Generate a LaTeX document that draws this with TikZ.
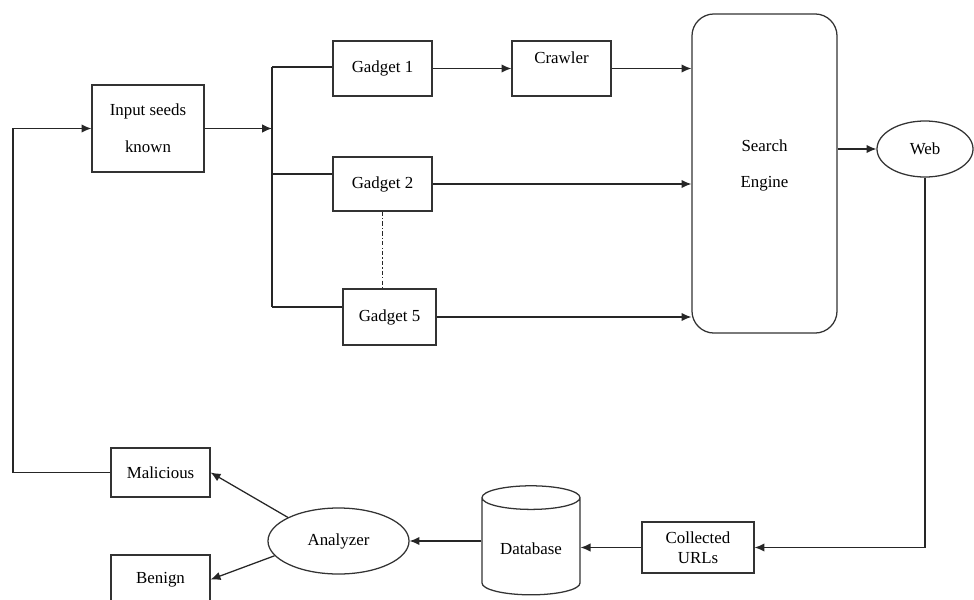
\documentclass[tikz,border=0pt]{standalone}
\usepackage{fontspec}
\setmainfont{Liberation Serif}
\usetikzlibrary{arrows.meta,shapes.geometric}

\tikzset{
  box/.style={draw=black!80, line width=0.9pt, minimum width=2.475cm,
    minimum height=1.375cm, align=center, inner sep=2pt,
    font=\fontsize{12}{14}\selectfont},
  oval/.style={box, ellipse},
  flow/.style={line width=0.9pt, draw=black!85, -{Latex[length=7pt,width=6pt]}},
  wire/.style={line width=0.9pt, draw=black!85},
}

\begin{document}
\begin{tikzpicture}[x=0.025cm, y=-0.025cm]
\useasboundingbox (0,0) rectangle (974,599);

\draw (148,128.5) node[box, minimum width=2.8cm, minimum height=2.175cm] (seeds) {Input seeds\\[12pt]known};
  \draw (382.5,68.5) node[box] (gadget1) {Gadget 1};
  \draw (561.5,68.5) node[box, text depth=16pt] (crawler) {Crawler};
  \draw (382.5,184) node[box, minimum height=1.35cm] (gadget2) {Gadget 2};
  \draw (389.5,317) node[box, minimum width=2.325cm, minimum height=1.4cm] (gadget5) {Gadget 5};
  \draw (764.5,173.5) node[box, rounded corners=0.55cm, minimum width=3.625cm, minimum height=7.975cm, text depth=14pt] (engine) {Search\\[11pt]Engine};
  \draw (925,149) node[oval, minimum width=2.4cm, minimum height=1.4cm] (web) {Web};
  \draw (698,547.5) node[box, minimum width=2.8cm, minimum height=1.275cm] (urls) {Collected\\URLs};
  \draw (531,548.5) node[box, cylinder, shape border rotate=90, aspect=0.35, minimum width=2.45cm, minimum height=2.725cm] (db) {Database};
  \draw (338.5,541) node[oval, minimum width=3.525cm, minimum height=1.65cm] (analyzer) {Analyzer};
  \draw (160.5,472.5) node[box, minimum height=1.225cm] (malicious) {Malicious};
  \draw (160.5,579.5) node[box, minimum height=1.225cm] (benign) {Benign};

  % split bar feeding the gadgets
  \coordinate (bus1) at (272,67);
  \coordinate (bus2) at (272,174);
  \coordinate (bus5) at (272,307);
  \coordinate (back) at (13,472.5);

     \path (seeds) edge[flow] (seeds -| bus1);
     \draw[wire] (bus1) -- (bus5);
     \draw[wire] (bus1) -- (bus1 -| gadget1.west);
     \draw[wire] (bus2) -- (bus2 -| gadget2.west);
     \draw[wire] (bus5) -- (bus5 -| gadget5.west);
     \draw[wire, dash pattern=on 3pt off 1.5pt on 1pt off 1.5pt] (gadget2.south) -- (gadget2.south |- gadget5.north);

     \path (gadget1) edge[flow] (crawler);
     \path (crawler) edge[flow] (crawler -| engine.west);
     \path (gadget2) edge[flow] (gadget2 -| engine.west);
     \path (gadget5) edge[flow] (gadget5 -| engine.west);
     \path (web -| engine.east) edge[flow] (web);

     \draw[flow] (web.south) |- (urls.east);
     \path (urls.west) edge[flow] (urls.west -| db.east);
     \path (db.west |- analyzer) edge[flow] (analyzer);
     \path (analyzer.155) edge[flow] (malicious.east);
     \path (analyzer.193) edge[flow] (benign.east);

     % malicious seeds go back to the input
     \draw[flow] (malicious.west) -- (back) |- (seeds.west);

\end{tikzpicture}
\end{document}
